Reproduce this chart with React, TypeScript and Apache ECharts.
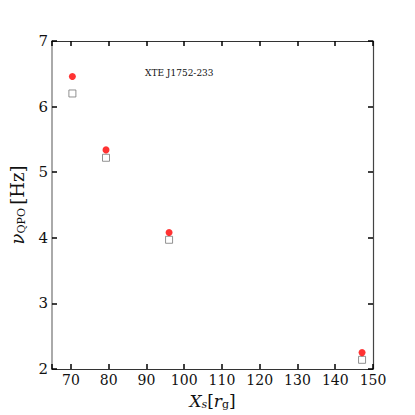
import React, { useEffect, useRef } from "react";
import * as echarts from "echarts";

const xsRed = [70.4, 79.3, 96.0, 147.1];
const nuRed = [6.46, 5.34, 4.08, 2.25];
const xsGray = [70.4, 79.3, 96.0, 147.1];
const nuGray = [6.2, 5.22, 3.97, 2.14];
const sourceName = "XTE J1752-233";

const SERIF = "DejaVu Serif";

export default function App() {
  const ref = useRef<HTMLDivElement>(null);
  useEffect(() => {
    if (!ref.current) return;
    const chart = echarts.init(ref.current, undefined, { renderer: "svg" });
    const tickStyle = { lineStyle: { color: "#000", width: 1.5 } };
    const xLabelFmt = (v: number) => (v % 10 === 0 ? String(v) : "");
    chart.setOption({
      animation: false,
      backgroundColor: "#fff",
      grid: { left: 52, top: 41, width: 321, height: 332, containLabel: false },
      xAxis: [
        {
          type: "value",
          min: 65,
          max: 150,
          splitNumber: 8,
          position: "bottom",
          splitLine: { show: false },
          axisLine: { lineStyle: { color: "#333", width: 1.2 } },
          axisTick: { inside: true, length: 5, ...tickStyle },
          axisLabel: {
            formatter: xLabelFmt,
            fontFamily: SERIF,
            fontSize: 14,
            color: "#111",
            margin: 4,
          },
          name: "{x|X}{s|s}{b|[}{r|r}{g|g}{b|]}",
          nameLocation: "middle",
          nameGap: 22,
          nameTextStyle: {
            rich: {
              x: { fontFamily: SERIF, fontStyle: "italic", fontSize: 17, color: "#111" },
              s: { fontFamily: SERIF, fontStyle: "italic", fontSize: 11, color: "#111", padding: [8, 0, 0, 0] },
              b: { fontFamily: SERIF, fontSize: 17, color: "#111" },
              r: { fontFamily: SERIF, fontStyle: "italic", fontSize: 17, color: "#111" },
              g: { fontFamily: SERIF, fontSize: 11, color: "#111", padding: [8, 0, 0, 0] },
            },
          },
        },
        {
          type: "value",
          min: 65,
          max: 150,
          splitNumber: 8,
          position: "top",
          splitLine: { show: false },
          axisLine: { lineStyle: { color: "#333", width: 1.2 } },
          axisTick: { inside: true, length: 5, ...tickStyle },
          axisLabel: { show: false },
        },
      ],
      yAxis: [
        {
          type: "value",
          min: 2,
          max: 7,
          interval: 1,
          position: "left",
          splitLine: { show: false },
          axisLine: { lineStyle: { color: "#aaa", width: 2 } },
          axisTick: { inside: true, length: 5, ...tickStyle },
          axisLabel: { fontFamily: SERIF, fontSize: 15, color: "#111", margin: 4 },
          name: "{n|ν}{q|QPO} {h|[Hz]}",
          nameLocation: "middle",
          nameRotate: 90,
          nameGap: 25,
          nameTextStyle: {
            rich: {
              n: { fontFamily: SERIF, fontStyle: "italic", fontSize: 18, color: "#111" },
              q: { fontFamily: SERIF, fontSize: 11, color: "#111", padding: [8, 0, 0, 0] },
              h: { fontFamily: SERIF, fontSize: 18, color: "#111" },
            },
          },
        },
        {
          type: "value",
          min: 2,
          max: 7,
          interval: 1,
          position: "right",
          splitLine: { show: false },
          axisLine: { lineStyle: { color: "#444", width: 1.2 } },
          axisTick: { inside: true, length: 5, ...tickStyle },
          axisLabel: { show: false },
        },
      ],
      graphic: [
        {
          type: "text",
          left: 145,
          top: 68,
          style: { text: sourceName, fontFamily: SERIF, fontSize: 9, fill: "#111" },
        },
      ],
      series: [
        {
          type: "scatter",
          data: xsGray.map((x, i) => [x, nuGray[i]]),
          symbol: "rect",
          symbolSize: 7,
          itemStyle: { color: "#fff", borderColor: "#777", borderWidth: 1 },
          z: 2,
        },
        {
          type: "scatter",
          data: xsRed.map((x, i) => [x, nuRed[i]]),
          symbol: "circle",
          symbolSize: 7,
          itemStyle: { color: "#ff0000" },
          z: 3,
        },
      ],
    });
    return () => chart.dispose();
  }, []);
  return (
    <div
      ref={ref}
      style={{ position: "fixed", left: 0, top: 0, width: 415, height: 415 }}
    />
  );
}
